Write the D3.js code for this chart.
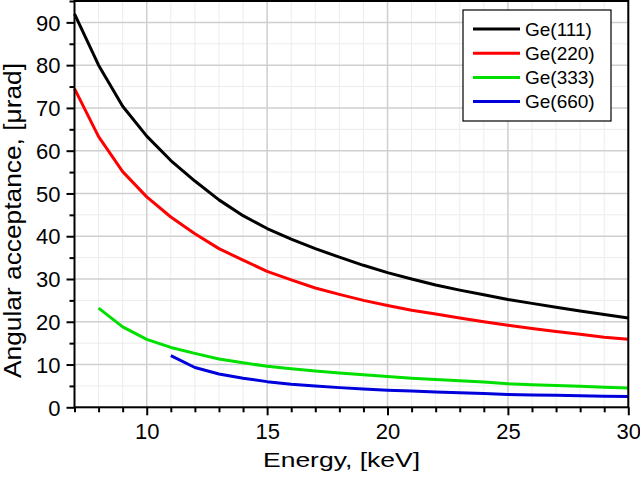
<!DOCTYPE html>
<html><head><meta charset="utf-8">
<script src="https://cdn.jsdelivr.net/npm/d3@7"></script>
<style>body{margin:0;background:#fff}svg{display:block}text{font-family:"Liberation Sans",Arial,sans-serif}</style>
</head><body><svg id="c" width="640" height="478"></svg>
<script>
const energy111 = [7,8,9,10,11,12,13,14,15,16,17,18,19,20,21,22,23,24,25,26,27,28,29,30];
const ge111 = [92.0,80.0,70.4,63.4,57.7,52.9,48.5,44.8,41.8,39.3,37.1,35.1,33.2,31.5,30.0,28.6,27.4,26.3,25.2,24.3,23.4,22.5,21.7,20.9];
const energy220 = [7,8,9,10,11,12,13,14,15,16,17,18,19,20,21,22,23,24,25,26,27,28,29,30];
const ge220 = [74.5,63.3,55.1,49.2,44.5,40.6,37.1,34.4,31.8,29.8,27.9,26.4,25.0,23.8,22.7,21.8,20.9,20.0,19.2,18.4,17.7,17.1,16.4,15.9];
const energy333 = [8,9,10,11,12,13,14,15,16,17,18,19,20,21,22,23,24,25,26,27,28,29,30];
const ge333 = [23.2,18.8,15.9,14.0,12.6,11.3,10.4,9.6,9.0,8.5,8.0,7.6,7.2,6.8,6.5,6.2,5.9,5.5,5.3,5.1,4.9,4.7,4.5];
const energy660 = [11,12,13,14,15,16,17,18,19,20,21,22,23,24,25,26,27,28,29,30];
const ge660 = [12.1,9.3,7.8,6.8,6.0,5.4,5.0,4.6,4.3,4.0,3.8,3.6,3.4,3.2,3.0,2.9,2.8,2.7,2.6,2.5];
const seriesNames = ["Ge(111)","Ge(220)","Ge(333)","Ge(660)"];
const seriesColors = ["#000000","#ff0000","#00e000","#0000dd"];
const xTicks = [10,15,20,25,30];
const yTicks = [0,10,20,30,40,50,60,70,80,90];

const series = [
  {name:seriesNames[0], color:seriesColors[0], pts:energy111.map((e,i)=>[e,ge111[i]])},
  {name:seriesNames[1], color:seriesColors[1], pts:energy220.map((e,i)=>[e,ge220[i]])},
  {name:seriesNames[2], color:seriesColors[2], pts:energy333.map((e,i)=>[e,ge333[i]])},
  {name:seriesNames[3], color:seriesColors[3], pts:energy660.map((e,i)=>[e,ge660[i]])}
];

const svg = d3.select("#c");
const L=74.5, R=628.3, T=1, B=407.3;
const x = d3.scaleLinear().domain([7,30]).range([L,R]);
const y = d3.scaleLinear().domain([0,95]).range([B,T]);

const minorX = d3.range(7,31,1);
const minorY = d3.range(0,96,5);

// grid
const g = svg.append("g");
g.selectAll(".mx").data(minorX.filter(v=>v%5!==0)).enter().append("line")
 .attr("x1",d=>x(d)).attr("x2",d=>x(d)).attr("y1",T).attr("y2",B)
 .attr("stroke","#ececec").attr("stroke-width",1);
g.selectAll(".my").data(minorY.filter(v=>v%10!==0)).enter().append("line")
 .attr("y1",d=>y(d)).attr("y2",d=>y(d)).attr("x1",L).attr("x2",R)
 .attr("stroke","#ececec").attr("stroke-width",1);
g.selectAll(".Mx").data(xTicks).enter().append("line")
 .attr("x1",d=>x(d)).attr("x2",d=>x(d)).attr("y1",T).attr("y2",B)
 .attr("stroke","#cfcfcf").attr("stroke-width",1.5);
g.selectAll(".My").data(yTicks).enter().append("line")
 .attr("y1",d=>y(d)).attr("y2",d=>y(d)).attr("x1",L).attr("x2",R)
 .attr("stroke","#cfcfcf").attr("stroke-width",1.5);

// lines
const line = d3.line().x(d=>x(d[0])).y(d=>y(d[1])).curve(d3.curveLinear);
svg.append("g").selectAll("path").data(series).enter().append("path")
 .attr("d",d=>line(d.pts)).attr("fill","none").attr("stroke",d=>d.color)
 .attr("stroke-width",3).attr("stroke-linejoin","round");

// axes
const xAxis = svg.append("g").attr("transform",`translate(0,${B})`)
 .call(d3.axisBottom(x).tickValues(xTicks).tickSize(8).tickSizeOuter(0).tickPadding(8));
const xMinor = svg.append("g").attr("transform",`translate(0,${B})`)
 .call(d3.axisBottom(x).tickValues(minorX.filter(v=>v%5!==0)).tickSize(5).tickSizeOuter(0).tickFormat(""));
const yAxis = svg.append("g").attr("transform",`translate(${L},0)`)
 .call(d3.axisLeft(y).tickValues(yTicks).tickSize(8).tickSizeOuter(0).tickPadding(6));
const yMinor = svg.append("g").attr("transform",`translate(${L},0)`)
 .call(d3.axisLeft(y).tickValues(minorY.filter(v=>v%10!==0)).tickSize(5).tickSizeOuter(0).tickFormat(""));
[xAxis,xMinor,yAxis,yMinor].forEach(a=>{
  a.select(".domain").remove();
  a.selectAll(".tick line").attr("stroke","#000").attr("stroke-width",2);
  a.selectAll("text").attr("font-size",22).attr("fill","#000").style("font-family","Liberation Sans, Arial, sans-serif");
});
yAxis.selectAll("text").attr("dy","0.35em");

// frame
svg.append("rect").attr("x",L).attr("y",T).attr("width",R-L).attr("height",B-T)
 .attr("fill","none").attr("stroke","#000").attr("stroke-width",2);

// titles
svg.append("text").attr("x",263).attr("y",467)
 .attr("font-size",21).attr("textLength",157).attr("lengthAdjust","spacingAndGlyphs").text("Energy, [keV]");
svg.append("text").attr("transform","translate(21,378) rotate(-90)")
 .attr("font-size",23).attr("textLength",315).attr("lengthAdjust","spacingAndGlyphs").text("Angular acceptance, [\u03bcrad]");

// legend
const lg = svg.append("g");
lg.append("rect").attr("x",463).attr("y",10).attr("width",148).attr("height",111)
 .attr("fill","#fff").attr("stroke","#000").attr("stroke-width",1.2);
const rows = lg.selectAll(".r").data(series).enter().append("g")
 .attr("transform",(d,i)=>`translate(0,${29+i*24.2})`);
rows.append("line").attr("x1",473).attr("x2",520).attr("y1",0).attr("y2",0)
 .attr("stroke",d=>d.color).attr("stroke-width",3);
rows.append("text").attr("x",525).attr("y",0).attr("dy","0.35em").attr("font-size",19).text(d=>d.name);
</script></body></html>
